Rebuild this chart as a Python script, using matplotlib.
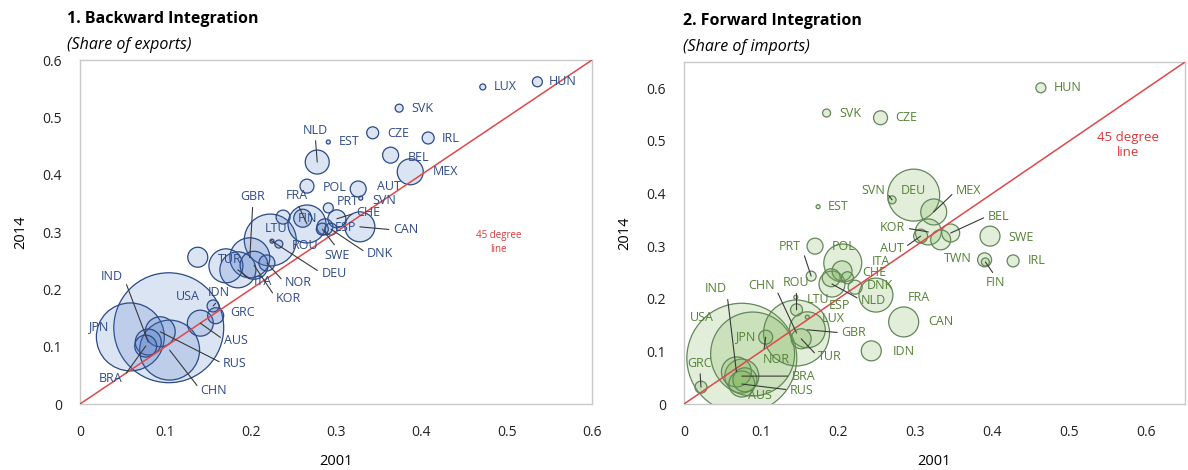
import matplotlib.pyplot as plt
from matplotlib.ticker import FuncFormatter

# ---- 1. Backward integration (share of exports) ----
bwd_countries = ["HUN", "LUX", "SVK", "CZE", "IRL", "EST", "NLD", "BEL", "MEX", "POL",
                 "AUT", "PRT", "SVN", "FRA", "FIN", "CHE", "CAN", "ESP", "SWE", "DNK",
                 "GBR", "LTU", "ROU", "DEU", "TUR", "ITA", "NOR", "KOR", "IND", "USA",
                 "IDN", "GRC", "JPN", "AUS", "RUS", "BRA", "CHN", "", ""]
bwd_2001 = [0.536, 0.472, 0.374, 0.343, 0.408, 0.291, 0.278, 0.364, 0.387, 0.266,
            0.326, 0.291, 0.329, 0.266, 0.261, 0.301, 0.328, 0.287, 0.284, 0.294,
            0.199, 0.225, 0.233, 0.223, 0.171, 0.185, 0.219, 0.204, 0.080, 0.104,
            0.156, 0.159, 0.059, 0.141, 0.094, 0.077, 0.105, 0.138, 0.238]
bwd_2014 = [0.562, 0.553, 0.516, 0.473, 0.464, 0.457, 0.422, 0.434, 0.405, 0.380,
            0.375, 0.342, 0.359, 0.314, 0.324, 0.323, 0.309, 0.309, 0.305, 0.305,
            0.255, 0.284, 0.279, 0.286, 0.241, 0.234, 0.246, 0.242, 0.108, 0.133,
            0.171, 0.154, 0.117, 0.141, 0.126, 0.101, 0.094, 0.256, 0.326]
bwd_weight = [2.5, 0.9, 1.6, 3.6, 3.6, 0.4, 14.4, 6.4, 16.9, 4.9,
              6.4, 2.5, 0.4, 36.1, 8.1, 8.1, 22.5, 6.4, 3.6, 3.6,
              40.0, 0.4, 1.6, 67.6, 28.9, 32.4, 6.4, 19.6, 16.9, 302.5,
              3.6, 6.4, 115.6, 16.9, 22.5, 12.1, 90.0, 10.0, 4.9]

# ---- 2. Forward integration (share of imports) ----
fwd_countries = ["HUN", "SVK", "CZE", "EST", "SVN", "DEU", "MEX", "BEL", "KOR", "AUT",
                 "SWE", "IRL", "TWN", "FIN", "PRT", "POL", "ITA", "CHE", "DNK", "NLD",
                 "ESP", "FRA", "CAN", "IDN", "CHN", "ROU", "LTU", "LUX", "GBR", "TUR",
                 "JPN", "USA", "NOR", "IND", "BRA", "RUS", "AUS", "GRC", "", ""]
fwd_2001 = [0.463, 0.185, 0.255, 0.174, 0.270, 0.298, 0.324, 0.346, 0.317, 0.307,
            0.397, 0.427, 0.390, 0.391, 0.165, 0.206, 0.205, 0.212, 0.222, 0.192,
            0.191, 0.249, 0.285, 0.243, 0.146, 0.146, 0.145, 0.160, 0.160, 0.152,
            0.089, 0.075, 0.106, 0.068, 0.075, 0.075, 0.079, 0.022, 0.170, 0.333]
fwd_2014 = [0.601, 0.553, 0.544, 0.375, 0.388, 0.397, 0.365, 0.325, 0.327, 0.319,
            0.319, 0.272, 0.274, 0.270, 0.243, 0.268, 0.253, 0.240, 0.222, 0.228,
            0.240, 0.207, 0.156, 0.101, 0.135, 0.179, 0.203, 0.165, 0.141, 0.124,
            0.095, 0.087, 0.127, 0.061, 0.053, 0.038, 0.046, 0.032, 0.300, 0.312]
fwd_weight = [2.5, 1.6, 4.9, 0.4, 1.6, 67.6, 16.9, 8.1, 16.9, 4.9,
              10.0, 3.6, 4.9, 1.6, 2.5, 36.1, 10.0, 3.6, 4.9, 16.9,
              8.1, 28.9, 22.5, 10.0, 108.9, 3.6, 0.4, 0.4, 32.4, 10.0,
              176.4, 302.5, 4.9, 22.5, 28.9, 16.9, 14.4, 3.6, 6.4, 10.0]

# label placement: pixel offset from the bubble (dx, dy up), alignment, leader line
bwd_labels = {
    "HUN": (11, 0, "left", False), "LUX": (11, 0, "left", False),
    "SVK": (12, 0, "left", False), "CZE": (15, -1, "left", False),
    "IRL": (14, -1, "left", False), "EST": (10, 0, "left", False),
    "NLD": (-2, 32, "center", True), "BEL": (17, -2, "left", False),
    "MEX": (23, 0, "left", False), "POL": (16, -1, "left", False),
    "AUT": (19, 2, "left", False), "PRT": (8, 6, "left", False),
    "SVN": (12, -2, "left", False), "FRA": (-10, 28, "center", True),
    "FIN": (5, 0, "center", False), "CHE": (19, 6, "left", True),
    "CAN": (33, -3, "left", True), "ESP": (10, -1, "left", False),
    "SWE": (15, -26, "center", True), "DNK": (36, -24, "left", True),
    "GBR": (3, 61, "center", True), "LTU": (4, 13, "center", False),
    "ROU": (13, -1, "left", False), "DEU": (51, -33, "left", True),
    "TUR": (4, 6, "center", False), "ITA": (16, -12, "left", True),
    "KOR": (22, -33, "left", True), "NOR": (18, -20, "left", True),
    "IND": (-25, 66, "right", True), "USA": (19, 31, "center", False),
    "IDN": (6, 13, "center", True), "GRC": (15, 3, "left", False),
    "JPN": (-32, 10, "center", False), "AUS": (24, -17, "left", True),
    "RUS": (63, -32, "left", True), "BRA": (-23, -32, "right", True),
    "CHN": (31, -40, "left", True),
}
fwd_labels = {
    "HUN": (13, 0, "left", False), "SVK": (13, 0, "left", False),
    "CZE": (15, 0, "left", False), "EST": (10, 0, "left", False),
    "SVN": (-7, 9, "right", True), "DEU": (0, 5, "center", False),
    "MEX": (22, 21, "left", True), "BEL": (37, 17, "left", True),
    "KOR": (-23, 4, "right", True), "AUT": (-17, -12, "right", True),
    "SWE": (18, -1, "left", False), "IRL": (15, 0, "left", False),
    "TWN": (-13, 1, "right", False), "FIN": (10, -21, "center", True),
    "PRT": (-10, 30, "right", True), "POL": (1, 16, "center", False),
    "ITA": (30, 9, "left", False), "CHE": (15, 5, "left", False),
    "DNK": (12, 2, "left", False), "NLD": (29, -16, "left", True),
    "ESP": (8, -28, "center", False), "FRA": (32, -2, "left", False),
    "CAN": (25, 0, "left", False), "IDN": (21, -1, "left", False),
    "CHN": (-22, 47, "right", True), "ROU": (0, 27, "center", True),
    "LTU": (11, -2, "left", False), "LUX": (14, -1, "left", False),
    "GBR": (34, -3, "left", True), "TUR": (17, -18, "left", True),
    "JPN": (-7, 17, "center", False), "USA": (-52, 41, "left", False),
    "NOR": (-3, -22, "left", True), "IND": (-10, 83, "right", True),
    "BRA": (50, 0, "left", True), "RUS": (48, -6, "left", True),
    "AUS": (15, -16, "center", False), "GRC": (-1, 24, "center", True),
}

plt.rcParams['font.family'] = ['Open Sans', 'DejaVu Sans']

PX = 0.72  # points per pixel at dpi 100


def draw_panel(ax, countries, x, y, w, labels, fill, edge, txt, lim):
    order = sorted(range(len(x)), key=lambda i: -w[i])
    ax.scatter([x[i] for i in order], [y[i] for i in order],
               s=[w[i] * 20.7 for i in order], facecolor=fill,
               edgecolor=edge, linewidth=0.9, zorder=2)
    ax.axline((0, 0), slope=1, color="#e0484a", lw=1.1, zorder=3)
    for i, name in enumerate(countries):
        if name not in labels:
            continue
        dx, dy, ha, leader = labels[name]
        arrow = None
        if leader:
            rel = {"left": (0, 0.5), "right": (1, 0.5)}.get(ha, (0.5, 0 if dy > 0 else 1))
            arrow = dict(arrowstyle="-", color="#3a3a3a", lw=0.8,
                         shrinkA=1, shrinkB=0, relpos=rel)
        ax.annotate(name, xy=(x[i], y[i]), xytext=(dx * PX, dy * PX),
                    textcoords="offset points", ha=ha, va="center",
                    color=txt, fontsize=9, arrowprops=arrow, zorder=4)
    ax.set_xlim(0, lim)
    ax.set_ylim(0, lim)
    ticks = [0, 0.1, 0.2, 0.3, 0.4, 0.5, 0.6]
    ax.set_xticks(ticks)
    ax.set_yticks(ticks)
    fmt = FuncFormatter(lambda v, p: "0" if v == 0 else f"{v:.1f}")
    ax.xaxis.set_major_formatter(fmt)
    ax.yaxis.set_major_formatter(fmt)
    ax.tick_params(length=0, labelsize=10, colors="#222222")
    ax.tick_params(axis="x", pad=15)
    ax.tick_params(axis="y", pad=13)
    for sp in ax.spines.values():
        sp.set_color("#c8c8c8")
        sp.set_linewidth(1)
    ax.set_xlabel("2001", fontsize=10.5, labelpad=10)
    ax.set_ylabel("2014", fontsize=10.5, labelpad=10)


fig = plt.figure(figsize=(11.88, 4.70), dpi=100)
ax1 = fig.add_axes([80 / 1188, 66 / 470, 512 / 1188, 344 / 470])
ax2 = fig.add_axes([684 / 1188, 66 / 470, 501 / 1188, 342 / 470])

draw_panel(ax1, bwd_countries, bwd_2001, bwd_2014, bwd_weight, bwd_labels,
           (0.267, 0.447, 0.769, 0.19), "#2b4a86", "#2e4a88", 0.6)
draw_panel(ax2, fwd_countries, fwd_2001, fwd_2014, fwd_weight, fwd_labels,
           (0.439, 0.678, 0.278, 0.2), "#62875a", "#548235", 0.65)

ax1.text(0.818, 0.47, "45 degree\nline", transform=ax1.transAxes, ha="center",
         va="center", color="#d83a3a", fontsize=7, linespacing=1.3)
ax2.text(0.886, 0.757, "45 degree\nline", transform=ax2.transAxes, ha="center",
         va="center", color="#d83a3a", fontsize=9.5, linespacing=1.2)

fig.text(67 / 1188, 1 - 19 / 470, "1. Backward Integration", fontsize=11.5,
         fontweight="bold", va="center")
fig.text(67 / 1188, 1 - 45 / 470, "(Share of exports)", fontsize=11.5,
         style="italic", va="center")
fig.text(683 / 1188, 1 - 21 / 470, "2. Forward Integration", fontsize=11.5,
         fontweight="bold", va="center")
fig.text(683 / 1188, 1 - 47 / 470, "(Share of imports)", fontsize=11.5,
         style="italic", va="center")

fig.savefig("out.png", dpi=100)
